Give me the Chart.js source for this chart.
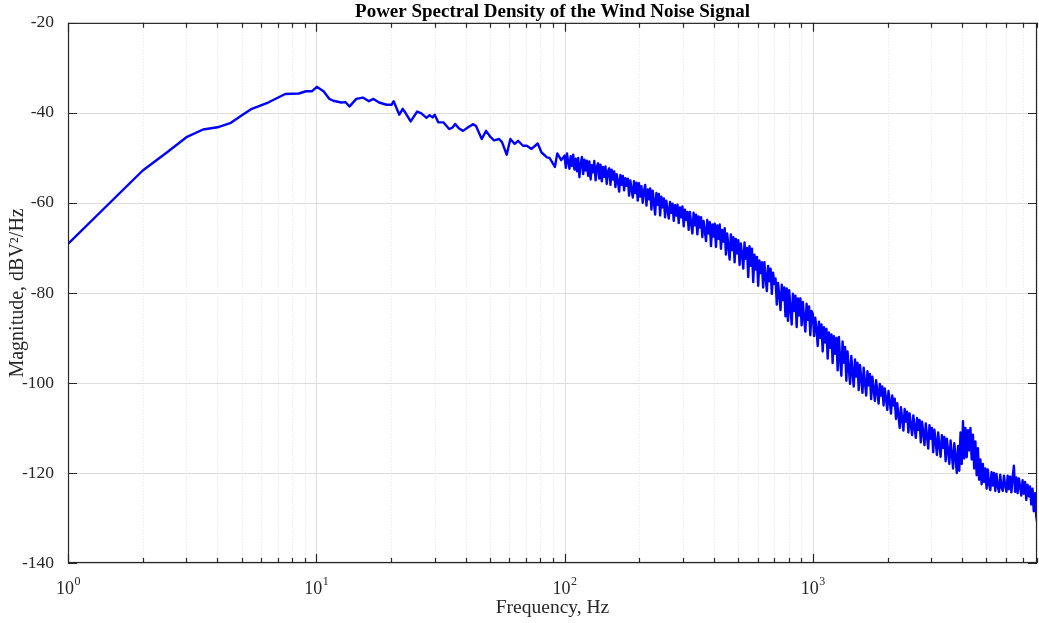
<!DOCTYPE html>
<html>
<head>
<meta charset="utf-8">
<script src="https://cdn.jsdelivr.net/npm/chart.js@4/dist/chart.umd.min.js"></script>
<style>
  body { margin: 0; background: #fff; }
  canvas { display: block; }
</style>
</head>
<body>
<canvas id="psdChart" width="1039" height="623"></canvas>
<script>
/* data: frequency (Hz) and PSD (dBV^2/Hz) */
// 1 Hz .. 100 Hz, smooth part
const freqLow = [
  1, 2, 2.5, 3, 3.5, 4, 4.5, 5, 5.5, 6.4, 7.5, 8.5, 9.1, 9.6, 10.05, 10.7, 11.3, 11.7, 12.6, 13.1,
  13.6, 14.5, 15.4, 16.3, 17, 17.9, 19.2, 20.1, 20.5, 21.6, 22.3, 23, 24, 25.5, 26.5, 27.8, 28.6, 29.4, 30, 31,
  32.5, 34.3, 35.3, 36.3, 37.5, 39, 40.9, 42.9, 44, 46.4, 48.3, 50.4, 52, 54.5, 56, 58.5, 60.5, 63, 65, 68,
  70.5, 73.6, 78, 80.8, 85, 87, 91.5, 93.5, 97
];
const psdLow = [
  -69.1, -52.8, -48.8, -45.4, -43.7, -43.2, -42.3, -40.6, -39.1, -37.7, -35.8, -35.7, -35.2, -35.2, -34.2, -35.2, -36.9, -37.3, -37.7, -37.6,
  -38.6, -36.9, -36.6, -37.4, -36.9, -37.7, -38.2, -38.2, -37.4, -40.4, -39.1, -40.2, -41.9, -39.7, -40.1, -41.1, -40.5, -41.0, -40.4, -42.1,
  -42.1, -43.6, -43.3, -42.5, -43.4, -44.0, -43.2, -42.5, -42.9, -45.8, -44.0, -45.4, -46.1, -45.8, -46.5, -49.3, -45.8, -46.9, -46.2, -47.3,
  -47.3, -48.0, -46.8, -48.8, -49.9, -50.0, -52.0, -49.0, -50.5
];
// 100 Hz .. 1 kHz, noisy band
const freqMid = [
  100, 101.2, 102.3, 103.5, 104.7, 105.9, 107.2, 108.4, 109.6, 110.9,
  112.2, 113.5, 114.8, 116.1, 117.5, 118.9, 120.2, 121.6, 123.0, 124.5,
  125.9, 127.4, 128.8, 130.3, 131.8, 133.4, 134.9, 136.5, 138.0, 139.6,
  141.3, 142.9, 144.5, 146.2, 147.9, 149.6, 151.4, 153.1, 154.9, 156.7,
  158.5, 160.3, 162.2, 164.1, 166.0, 167.9, 169.8, 171.8, 173.8, 175.8,
  177.8, 179.9, 182.0, 184.1, 186.2, 188.4, 190.5, 192.8, 195.0, 197.2,
  199.5, 201.8, 204.2, 206.5, 208.9, 211.3, 213.8, 216.3, 218.8, 221.3,
  223.9, 226.5, 229.1, 231.7, 234.4, 237.1, 239.9, 242.7, 245.5, 248.3,
  251.2, 254.1, 257.0, 260.0, 263.0, 266.1, 269.2, 272.3, 275.4, 278.6,
  281.8, 285.1, 288.4, 291.7, 295.1, 298.5, 302.0, 305.5, 309.0, 312.6,
  316.2, 319.9, 323.6, 327.3, 331.1, 335.0, 338.8, 342.8, 346.7, 350.8,
  354.8, 358.9, 363.1, 367.3, 371.5, 375.8, 380.2, 384.6, 389.0, 393.6,
  398.1, 402.7, 407.4, 412.1, 416.9, 421.7, 426.6, 431.5, 436.5, 441.6,
  446.7, 451.9, 457.1, 462.4, 467.7, 473.2, 478.6, 484.2, 489.8, 495.5,
  501.2, 507.0, 512.9, 518.8, 524.8, 530.9, 537.0, 543.3, 549.5, 555.9,
  562.3, 568.9, 575.4, 582.1, 588.8, 595.7, 602.6, 609.5, 616.6, 623.7,
  631.0, 638.3, 645.7, 653.1, 660.7, 668.3, 676.1, 683.9, 691.8, 699.8,
  707.9, 716.1, 724.4, 732.8, 741.3, 749.9, 758.6, 767.4, 776.2, 785.2,
  794.3, 803.5, 812.8, 822.2, 831.8, 841.4, 851.1, 861.0, 871.0, 881.0,
  891.3, 901.6, 912.0, 922.6, 933.3, 944.1, 955.0, 966.1, 977.2, 988.6
];
const psdMid = [
  -49.5, -52.2, -49.0, -51.0, -52.4, -49.6, -51.8, -49.3, -52.6, -50.2,
  -53.0, -50.0, -54.3, -51.5, -49.8, -53.6, -50.4, -52.8, -50.6, -54.0,
  -50.8, -54.8, -51.6, -53.2, -50.7, -55.0, -52.0, -51.2, -54.6, -51.5,
  -55.2, -52.0, -54.2, -51.9, -55.8, -53.0, -52.3, -56.0, -52.6, -54.8,
  -53.0, -56.5, -53.6, -55.2, -57.5, -53.8, -56.0, -54.0, -57.2, -54.5,
  -56.2, -54.6, -58.4, -55.0, -57.0, -58.8, -55.2, -57.8, -55.5, -59.5,
  -55.6, -58.6, -56.3, -60.0, -57.4, -56.0, -60.6, -57.0, -59.2, -56.8,
  -61.5, -57.3, -59.8, -62.6, -57.8, -60.4, -58.0, -62.8, -58.6, -61.0,
  -59.0, -63.2, -59.5, -61.5, -63.5, -59.8, -62.2, -60.2, -64.0, -60.5,
  -62.8, -60.4, -64.5, -61.0, -63.2, -60.8, -65.2, -61.5, -63.8, -62.0,
  -66.0, -62.0, -64.6, -66.8, -62.2, -65.0, -62.6, -67.0, -63.0, -65.5,
  -63.2, -67.6, -64.0, -66.2, -68.5, -63.8, -66.8, -64.3, -69.6, -64.8,
  -67.5, -64.6, -69.8, -65.0, -68.0, -64.8, -70.2, -66.0, -68.6, -65.6,
  -71.5, -66.8, -69.5, -72.6, -67.0, -70.5, -67.6, -73.2, -68.0, -71.2,
  -68.3, -73.8, -69.0, -71.5, -74.6, -68.8, -72.4, -70.0, -76.5, -69.6,
  -74.0, -70.2, -77.6, -71.5, -74.8, -72.0, -78.4, -72.8, -75.6, -73.2,
  -78.8, -73.2, -76.5, -79.6, -74.0, -77.4, -74.6, -80.2, -75.5, -78.0,
  -76.8, -82.6, -77.8, -80.5, -83.8, -78.2, -81.6, -78.8, -85.2, -79.0,
  -86.2, -79.4, -83.5, -87.0, -80.2, -84.0, -80.6, -87.6, -81.2, -85.0,
  -81.2, -87.2, -82.0, -85.6, -88.6, -82.4, -86.0, -83.0, -89.4, -84.0
];
// 1 kHz .. 8 kHz, noisy band
const freqHigh = [
  1000, 1012, 1023, 1035, 1047, 1059, 1072, 1084, 1096, 1109,
  1122, 1135, 1148, 1161, 1175, 1189, 1202, 1216, 1230, 1245,
  1259, 1274, 1288, 1303, 1318, 1334, 1349, 1365, 1380, 1396,
  1413, 1429, 1445, 1462, 1479, 1496, 1514, 1531, 1549, 1567,
  1585, 1603, 1622, 1641, 1660, 1679, 1698, 1718, 1738, 1758,
  1778, 1799, 1820, 1841, 1862, 1884, 1905, 1928, 1950, 1972,
  1995, 2018, 2042, 2065, 2089, 2113, 2138, 2163, 2188, 2213,
  2239, 2265, 2291, 2317, 2344, 2371, 2399, 2427, 2455, 2483,
  2512, 2541, 2570, 2600, 2630, 2661, 2692, 2723, 2754, 2786,
  2818, 2851, 2884, 2917, 2951, 2985, 3020, 3055, 3090, 3126,
  3162, 3199, 3236, 3273, 3311, 3350, 3388, 3428, 3467, 3508,
  3548, 3589, 3631, 3673, 3715, 3758, 3802, 3846, 3890, 3936,
  3981, 4027, 4074, 4121, 4169, 4217, 4266, 4315, 4365, 4416,
  4467, 4519, 4571, 4624, 4677, 4732, 4786, 4842, 4898, 4955,
  5012, 5070, 5129, 5188, 5248, 5309, 5370, 5433, 5495, 5559,
  5623, 5689, 5754, 5821, 5888, 5957, 6026, 6095, 6166, 6237,
  6310, 6383, 6457, 6531, 6607, 6683, 6761, 6839, 6918, 6998,
  7079, 7161, 7244, 7328, 7413, 7499, 7586, 7674, 7762, 7852,
  7943, 8000
];
const psdHigh = [
  -84.6, -89.6, -85.5, -88.0, -91.8, -86.4, -90.0, -87.0, -93.0, -87.6,
  -91.0, -88.0, -94.6, -88.8, -92.2, -89.2, -95.6, -89.6, -93.5, -90.0,
  -97.2, -89.8, -94.5, -98.4, -90.8, -95.5, -92.0, -99.5, -93.0, -96.6,
  -100.2, -94.0, -97.5, -100.8, -94.8, -98.6, -95.5, -101.6, -96.0, -99.0,
  -102.2, -96.6, -99.8, -102.8, -97.4, -100.5, -98.0, -103.6, -98.6, -101.4,
  -104.0, -99.4, -102.0, -104.6, -100.2, -102.8, -100.8, -105.0, -101.2, -103.5,
  -106.0, -101.8, -104.2, -106.8, -102.8, -105.0, -103.5, -108.0, -104.5, -107.2,
  -110.0, -105.4, -108.0, -110.6, -105.8, -108.6, -106.4, -111.0, -106.8, -109.4,
  -111.6, -107.2, -109.8, -112.2, -107.8, -110.4, -108.2, -113.2, -108.6, -111.0,
  -113.8, -109.0, -111.8, -114.6, -109.4, -112.4, -110.0, -115.4, -110.4, -113.0,
  -116.0, -111.0, -113.8, -116.4, -111.6, -114.4, -112.0, -117.4, -112.4, -115.2,
  -118.0, -112.8, -115.8, -119.0, -113.4, -116.4, -120.0, -114.0, -119.5, -111.0,
  -118.0, -108.5, -116.8, -110.0, -116.5, -110.5, -115.0, -110.0, -117.0, -111.5,
  -119.0, -113.0, -120.5, -114.5, -121.5, -117.0, -122.5, -118.0, -122.0, -119.0,
  -123.5, -119.2, -122.5, -123.8, -119.8, -122.8, -120.0, -124.0, -120.2, -123.0,
  -124.2, -120.4, -123.2, -124.0, -120.6, -122.8, -124.2, -120.6, -123.6, -120.8,
  -124.3, -121.0, -118.4, -124.2, -121.0, -124.5, -121.2, -123.0, -125.0, -121.6,
  -124.6, -122.0, -126.0, -122.6, -125.2, -123.0, -127.0, -123.5, -128.5, -124.5,
  -129.5, -130.8
];

/* axes */
const xMajorTicks = [1, 10, 100, 1000];
const xTickExponents = ['0', '1', '2', '3'];
const xMinorTicks = [2, 3, 4, 5, 6, 7, 8, 9, 20, 30, 40, 50, 60, 70, 80, 90,
  200, 300, 400, 500, 600, 700, 800, 900, 2000, 3000, 4000, 5000, 6000, 7000, 8000];
const yTicks = [-140, -120, -100, -80, -60, -40, -20];

const textColor = '#262626';
const serif = "'Liberation Serif', 'Times New Roman', serif";

/* MATLAB-like box: grid under the line, frame + inward ticks + 10^n labels on top */
const boxPlugin = {
  id: 'boxPlugin',
  beforeDatasetsDraw(chart) {
    const { ctx, chartArea: a, scales: { x, y } } = chart;
    ctx.save();
    ctx.lineWidth = 1;
    ctx.strokeStyle = '#e4e4e4';
    ctx.setLineDash([1, 2]);
    xMinorTicks.forEach(v => {
      const px = Math.round(x.getPixelForValue(v)) + 0.5;
      ctx.beginPath(); ctx.moveTo(px, a.top); ctx.lineTo(px, a.bottom); ctx.stroke();
    });
    ctx.setLineDash([]);
    ctx.strokeStyle = '#dcdcdc';
    xMajorTicks.forEach(v => {
      const px = Math.round(x.getPixelForValue(v)) + 0.5;
      ctx.beginPath(); ctx.moveTo(px, a.top); ctx.lineTo(px, a.bottom); ctx.stroke();
    });
    yTicks.forEach(v => {
      const py = Math.round(y.getPixelForValue(v)) + 0.5;
      ctx.beginPath(); ctx.moveTo(a.left, py); ctx.lineTo(a.right, py); ctx.stroke();
    });
    ctx.restore();
  },
  afterDatasetsDraw(chart) {
    const { ctx, chartArea: a, scales: { x, y } } = chart;
    ctx.save();
    ctx.strokeStyle = textColor;
    ctx.lineWidth = 1.2;
    ctx.strokeRect(a.left + 0.5, a.top + 0.5, a.right - a.left - 1, a.bottom - a.top - 1);
    ctx.beginPath();
    const tick = (v, len) => {
      const px = Math.round(x.getPixelForValue(v)) + 0.5;
      ctx.moveTo(px, a.bottom); ctx.lineTo(px, a.bottom - len);
      ctx.moveTo(px, a.top); ctx.lineTo(px, a.top + len);
    };
    xMajorTicks.forEach(v => tick(v, 9));
    xMinorTicks.forEach(v => tick(v, 5));
    yTicks.forEach(v => {
      const py = Math.round(y.getPixelForValue(v)) + 0.5;
      ctx.moveTo(a.left, py); ctx.lineTo(a.left + 9, py);
      ctx.moveTo(a.right, py); ctx.lineTo(a.right - 9, py);
    });
    ctx.stroke();

    // decade labels with a raised exponent
    ctx.fillStyle = textColor;
    ctx.textBaseline = 'alphabetic';
    ctx.textAlign = 'left';
    xMajorTicks.forEach((v, i) => {
      const px = x.getPixelForValue(v);
      ctx.font = `18px ${serif}`;
      const wBase = ctx.measureText('10').width;
      ctx.font = `12px ${serif}`;
      const wExp = ctx.measureText(xTickExponents[i]).width;
      const left = px - (wBase + wExp) / 2;
      ctx.font = `18px ${serif}`;
      ctx.fillText('10', left, a.bottom + 31);
      ctx.font = `12px ${serif}`;
      ctx.fillText(xTickExponents[i], left + wBase + 0.5, a.bottom + 22);
    });
    ctx.restore();
  }
};

const freqHz = freqLow.concat(freqMid, freqHigh);
const psdDb = psdLow.concat(psdMid, psdHigh);
const points = freqHz.map((f, i) => ({ x: f, y: psdDb[i] }));

new Chart(document.getElementById('psdChart'), {
  type: 'line',
  data: {
    datasets: [{
      data: points,
      borderColor: '#0000ff',
      borderWidth: 2.4,
      borderJoinStyle: 'round',
      pointRadius: 0,
      tension: 0,
      fill: false
    }]
  },
  options: {
    responsive: false,
    animation: false,
    devicePixelRatio: 1,
    layout: { padding: { left: 0, right: 2, top: 0, bottom: 0 } },
    plugins: {
      legend: { display: false },
      tooltip: { enabled: false },
      title: {
        display: true,
        fullSize: false,
        text: 'Power Spectral Density of the Wind Noise Signal',
        color: '#000',
        font: { family: serif, size: 19, weight: 'bold', lineHeight: 1.15 },
        padding: { top: 1, bottom: 0 }
      }
    },
    scales: {
      x: {
        type: 'logarithmic',
        min: 1,
        max: 8000,
        grid: { display: false },
        border: { display: false },
        afterBuildTicks: scale => { scale.ticks = xMajorTicks.map(v => ({ value: v })); },
        afterFit: scale => { scale.height = 60; },
        ticks: { display: false },
        title: {
          display: true,
          text: 'Frequency, Hz',
          color: textColor,
          font: { family: serif, size: 19.5 },
          padding: { top: 0, bottom: 3 }
        }
      },
      y: {
        min: -140,
        max: -20,
        grid: { display: false },
        border: { display: false },
        afterBuildTicks: scale => { scale.ticks = yTicks.map(v => ({ value: v })); },
        afterFit: scale => { scale.width = 68; },
        ticks: {
          color: textColor,
          font: { family: serif, size: 17.5 },
          padding: 6
        },
        title: {
          display: true,
          text: 'Magnitude, dBV\u00B2/Hz',
          color: textColor,
          font: { family: serif, size: 20 },
          padding: { top: 6, bottom: 0 }
        }
      }
    }
  },
  plugins: [boxPlugin]
});
</script>
</body>
</html>
